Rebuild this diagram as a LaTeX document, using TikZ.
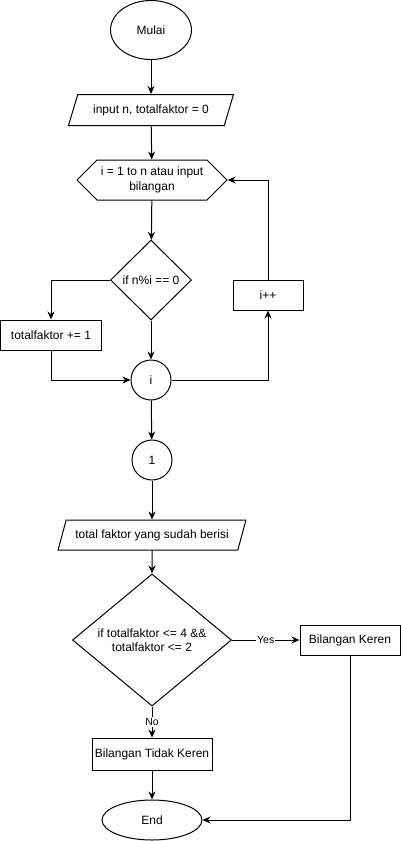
\documentclass[tikz,border=0pt]{standalone}
\usepackage{fontspec}
\setmainfont{Liberation Sans}
\usetikzlibrary{shapes.geometric,shapes.symbols,arrows.meta}

\begin{document}
\begin{tikzpicture}[x=1pt, y=-1pt, line width=1pt,
  font=\fontsize{12}{14.5}\selectfont,
  base/.style={draw, inner sep=0pt, align=center},
  terminal/.style={base, ellipse},
  io/.style={base, trapezium, trapezium left angle=57, trapezium right angle=123,
    trapezium stretches=true, minimum height=31pt},
  loopbox/.style={base, signal, signal to=west and east, signal pointer angle=90},
  decision/.style={base, diamond, aspect=1},
  process/.style={base, rectangle},
  connector/.style={base, circle, minimum size=40pt},
  arrow/.style={-{Stealth[length=8pt, width=7pt]}},
  edgelabel/.style={fill=white, inner sep=1pt, font=\fontsize{10.5}{12}\selectfont}]

\useasboundingbox (0,0) rectangle (401,841);

\node[terminal, minimum width=81pt, minimum height=59pt] (mulai) at (151,30) {Mulai};
\node[io, minimum width=165pt] (input) at (151,110) {input n, totalfaktor = 0};
\node[loopbox, minimum width=150pt, minimum height=40pt] (ulang) at (152,180)
  {i = 1 to n atau input\\bilangan};
\node[decision, minimum width=81pt, minimum height=80pt] (cekfaktor) at (151,280) {if n\%i == 0};
\node[process, minimum width=101pt, minimum height=30pt] (tambah) at (51,335) {totalfaktor += 1};
\node[process, minimum width=70pt, minimum height=30pt] (naik) at (268,295) {i++};
\node[connector] (titiki) at (151,380) {i};
\node[connector] (titiksatu) at (152,460) {1};
\node[io, minimum width=188pt, minimum height=30pt] (output) at (152,535) {total faktor yang sudah berisi};
\node[decision, minimum width=159pt, minimum height=120pt] (cekkeren) at (152,640)
  {if totalfaktor <= 4 \&\&\\totalfaktor <= 2};
\node[process, minimum width=100pt, minimum height=30pt] (keren) at (350,640) {Bilangan Keren};
\node[process, minimum width=120pt, minimum height=32pt] (tidak) at (152,754) {Bilangan Tidak Keren};
\node[terminal, minimum width=100pt, minimum height=40pt] (selesai) at (152,820) {End};

\draw[arrow] (mulai) -- (input);
\draw[arrow] (input) -- (ulang);
\draw[arrow] (ulang) -- (cekfaktor);
\draw[arrow] (cekfaktor.west) -| (tambah.north);
\draw[arrow] (cekfaktor) -- (titiki);
\draw[arrow] (tambah.south) |- (titiki.west);
\draw[arrow] (titiki.east) -| (naik.south);
\draw[arrow] (naik.north) |- (ulang.east);
\draw[arrow] (titiki) -- (titiksatu);
\draw[arrow] (titiksatu) -- (output);
\draw[arrow] (output) -- (cekkeren);
\draw[arrow] (cekkeren.east) -- (keren.west)
  node[midway, edgelabel] {Yes};
\draw[arrow] (cekkeren.south) -- (tidak.north)
  node[midway, edgelabel] {No};
\draw[arrow] (tidak) -- (selesai);
\draw[arrow] (keren.south) |- (selesai.east);

\end{tikzpicture}
\end{document}
